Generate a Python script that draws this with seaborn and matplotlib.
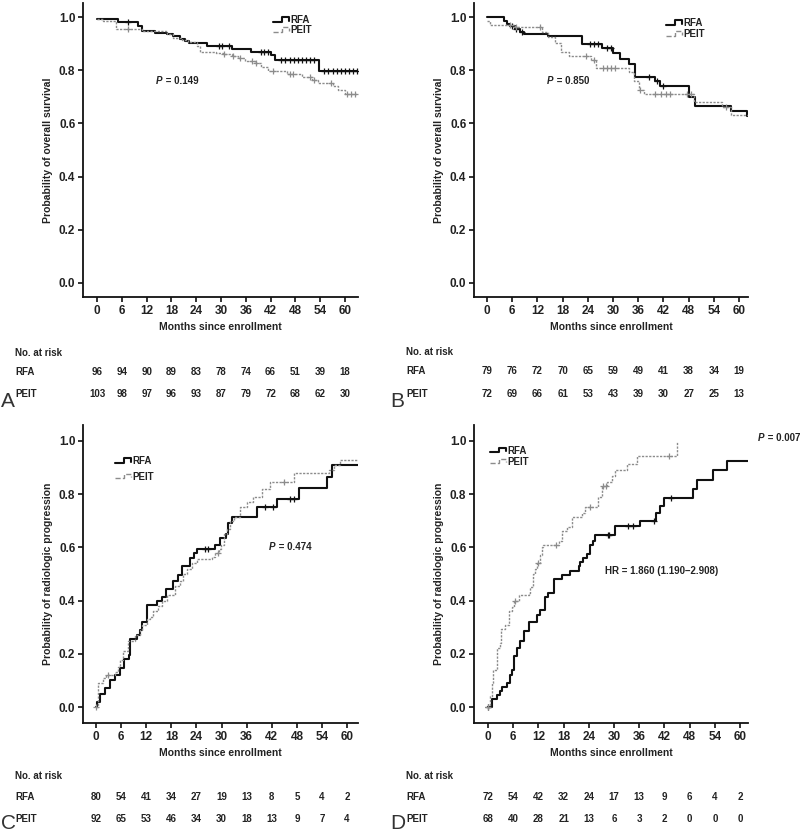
import numpy as np
import matplotlib
matplotlib.use('Agg')
import matplotlib.pyplot as plt
import seaborn as sns
from matplotlib.lines import Line2D
from matplotlib.legend_handler import HandlerBase
from matplotlib.transforms import blended_transform_factory

sns.set_style('ticks')
plt.rcParams['font.family'] = ['Liberation Sans', 'DejaVu Sans']

W, H = 800, 833

# -----------------------------
# Data
# -----------------------------

months = [0, 6, 12, 18, 24, 30, 36, 42, 48, 54, 60]

# A - overall survival, cohort 1
a_rfa_t = [0, 5, 9.8, 11, 14, 17, 18.5, 20, 21.3, 22.3, 26.5, 32.6, 37.2, 42, 43, 53.7, 63]
a_rfa_s = [0.993, 0.982, 0.965, 0.948, 0.94, 0.935, 0.927, 0.917, 0.91, 0.903, 0.893, 0.88,
           0.87, 0.858, 0.837, 0.798, 0.798]
a_rfa_cens = [7.6, 29.5, 30.3, 32, 39.8, 40.5, 41.3, 44.6, 45.6, 46.6, 47.6, 48.6, 49.6, 50.6,
              51.6, 52.4, 55, 56, 57, 58, 59, 60, 61, 62, 62.8]
a_peit_t = [0, 1.5, 4.7, 10.8, 16.9, 18.5, 20.5, 22.1, 24.1, 25, 28.9, 30.5, 32.6, 34.2, 35.8,
            38.2, 39.8, 41.4, 45.9, 49.5, 51.9, 53.5, 57.2, 58.4, 60, 63]
a_peit_s = [0.993, 0.985, 0.955, 0.947, 0.935, 0.922, 0.914, 0.906, 0.892, 0.868, 0.864, 0.86,
            0.855, 0.846, 0.834, 0.826, 0.814, 0.797, 0.787, 0.776, 0.764, 0.752, 0.74, 0.727,
            0.712, 0.712]
a_peit_cens = [7.5, 30.8, 33.0, 34.5, 37.5, 38.5, 42.5, 46.7, 47.5, 51.5, 52.5, 56.5, 60.5, 61.5, 62.5]
a_risk_rfa = [96, 94, 90, 89, 83, 78, 74, 66, 51, 39, 18]
a_risk_peit = [103, 98, 97, 96, 93, 87, 79, 72, 68, 62, 30]

# B - overall survival, cohort 2
b_rfa_t = [0, 4, 4.7, 5.5, 6.7, 7.9, 8.8, 14.6, 22.5, 27.3, 30, 31.7, 33.7, 35.2, 40, 41.2, 48,
           49.5, 58, 62, 62.3]
b_rfa_s = [1.0, 0.986, 0.975, 0.965, 0.955, 0.945, 0.937, 0.927, 0.897, 0.884, 0.866, 0.842,
           0.824, 0.775, 0.76, 0.741, 0.70, 0.665, 0.645, 0.627, 0.627]
b_rfa_cens = [6, 7, 8.3, 24.5, 25.5, 26.5, 28.5, 29.5, 38.5, 40.5, 41.8]
b_peit_t = [0, 0.7, 6.7, 13, 14.6, 16.2, 17.6, 19.6, 24.8, 26, 33.8, 35, 36.2, 37.4, 49.2, 56,
            58, 62.3]
b_peit_s = [0.985, 0.972, 0.962, 0.945, 0.925, 0.904, 0.868, 0.855, 0.838, 0.807, 0.792, 0.761,
            0.724, 0.709, 0.68, 0.66, 0.632, 0.632]
b_peit_cens = [5.5, 7, 12.5, 23.6, 25.5, 27.5, 28.5, 29.5, 30.5, 36.5, 40, 41.5, 42.5, 43.5,
               47.5, 48.5, 56.8]
b_risk_rfa = [79, 76, 72, 70, 65, 59, 49, 41, 38, 34, 19]
b_risk_peit = [72, 69, 66, 61, 53, 43, 39, 30, 27, 25, 13]

# C - radiologic progression, cohort 1
c_rfa_t = [0, 0.3, 1, 2.1, 3.3, 4.5, 5.7, 6.7, 7.9, 8.1, 9.7, 10.5, 11.1, 12.1, 14.5, 15.7,
           16.7, 18.5, 19.7, 20.5, 22.5, 23.3, 24.1, 28.5, 29.7, 31, 31.6, 32.6, 38.5, 43.2,
           48.4, 55.2, 56.4, 63]
c_rfa_s = [0, 0.02, 0.05, 0.07, 0.10, 0.12, 0.145, 0.18, 0.195, 0.255, 0.27, 0.29, 0.32, 0.385,
           0.40, 0.415, 0.445, 0.475, 0.495, 0.53, 0.56, 0.58, 0.595, 0.61, 0.635, 0.65, 0.69,
           0.713, 0.75, 0.78, 0.825, 0.865, 0.91, 0.91]
c_rfa_cens = [26, 26.8, 40.4, 42.4, 46.4, 47.2]
c_peit_t = [0, 0.5, 1.7, 2.5, 4.5, 5.3, 5.7, 6.5, 7.7, 9.3, 10.5, 10.9, 12.1, 12.9, 13.7, 14.9,
            15.7, 16.9, 18.9, 20.1, 20.9, 21.7, 22.9, 24.1, 27.7, 28.5, 29.3, 29.8, 30.5, 31.3,
            32.1, 32.9, 34.5, 36.1, 37.6, 39.6, 41.6, 47.2, 55.6, 56.8, 58.4, 63]
c_peit_s = [0, 0.09, 0.11, 0.12, 0.13, 0.15, 0.175, 0.21, 0.25, 0.27, 0.29, 0.31, 0.33, 0.34,
            0.36, 0.38, 0.40, 0.42, 0.455, 0.475, 0.50, 0.52, 0.54, 0.555, 0.565, 0.58, 0.595,
            0.61, 0.65, 0.67, 0.70, 0.715, 0.75, 0.77, 0.79, 0.82, 0.845, 0.88, 0.89, 0.91,
            0.93, 0.93]
c_peit_cens = [0, 2.9, 29.2, 45]
c_risk_rfa = [80, 54, 41, 34, 27, 19, 13, 8, 5, 4, 2]
c_risk_peit = [92, 65, 53, 46, 34, 30, 18, 13, 9, 7, 4]

# D - radiologic progression, cohort 2
d_rfa_t = [0, 0.95, 2.1, 2.9, 3.3, 4.5, 5.2, 5.7, 6.1, 6.9, 7.7, 8.6, 9.7, 11.6, 12.4, 13.6,
           14.2, 15.6, 17.6, 19.6, 21.6, 21.9, 22.6, 23.5, 24.3, 25, 25.5, 30.3, 36.2, 40, 41,
           41.8, 48.7, 49.8, 53.6, 56.8, 63]
d_rfa_s = [0, 0.03, 0.045, 0.06, 0.075, 0.09, 0.12, 0.14, 0.19, 0.22, 0.25, 0.285, 0.32, 0.345,
           0.365, 0.415, 0.43, 0.48, 0.495, 0.51, 0.53, 0.545, 0.56, 0.575, 0.61, 0.625, 0.645,
           0.68, 0.70, 0.73, 0.755, 0.785, 0.82, 0.855, 0.89, 0.925, 0.925]
d_rfa_cens = [0, 28.5, 28.9, 33.3, 34.5, 39.5, 43.6]
d_peit_t = [0, 0.4, 0.9, 1.3, 2.1, 2.8, 3.2, 4.1, 4.9, 5.7, 6.1, 7.3, 9.7, 10.1, 10.7, 11.3,
            11.7, 12.3, 12.8, 13.2, 16.8, 17.6, 18.8, 20, 22.3, 23.1, 26.3, 27.1, 28.3, 29.5,
            30.3, 33, 35.4, 44.9]
d_peit_s = [0, 0.04, 0.09, 0.14, 0.22, 0.24, 0.295, 0.31, 0.36, 0.375, 0.40, 0.42, 0.43, 0.45,
            0.50, 0.52, 0.54, 0.57, 0.60, 0.61, 0.625, 0.66, 0.675, 0.715, 0.73, 0.75, 0.79,
            0.83, 0.845, 0.87, 0.89, 0.915, 0.945, 1.0]
d_peit_cens = [0, 6.4, 11.8, 16.3, 24.4, 27.4, 28.1, 43]
d_risk_rfa = [72, 54, 42, 32, 24, 17, 13, 9, 6, 4, 2]
d_risk_peit = [68, 40, 28, 21, 13, 6, 3, 2, 0, 0, 0]

os_label = 'Probability of overall survival'
prog_label = 'Probability of radiologic progression'

# -----------------------------
# Layout (pixel boxes: left, top, right, bottom)
# -----------------------------

panels = [
    dict(letter='A', box=(83, 3, 358, 297), xlim=(-3.39, 63.15), ylim=(-0.053, 1.053),
         rfa=(a_rfa_t, a_rfa_s, a_rfa_cens), peit=(a_peit_t, a_peit_s, a_peit_cens),
         risk=(a_risk_rfa, a_risk_peit), ylabel=os_label, leg=(0.69, 0.958), legsp=0.0,
         rows=(353, 372, 394), tab_x=15, let_xy=(1, 407)),
    dict(letter='B', box=(474, 3, 748, 297), xlim=(-3.1, 62.14), ylim=(-0.053, 1.053),
         rfa=(b_rfa_t, b_rfa_s, b_rfa_cens), peit=(b_peit_t, b_peit_s, b_peit_cens),
         risk=(b_risk_rfa, b_risk_peit), ylabel=os_label, leg=(0.70, 0.948), legsp=0.1,
         rows=(352, 371, 394), tab_x=406, let_xy=(390, 407)),
    dict(letter='C', box=(83, 425, 358, 723), xlim=(-3.1, 62.6), ylim=(-0.06, 1.06),
         rfa=(c_rfa_t, c_rfa_s, c_rfa_cens), peit=(c_peit_t, c_peit_s, c_peit_cens),
         risk=(c_risk_rfa, c_risk_peit), ylabel=prog_label, leg=(0.116, 0.895), legsp=0.55,
         rows=(776, 797, 819), tab_x=15, let_xy=(1, 829)),
    dict(letter='D', box=(474, 425, 748, 723), xlim=(-3.33, 61.9), ylim=(-0.06, 1.06),
         rfa=(d_rfa_t, d_rfa_s, d_rfa_cens), peit=(d_peit_t, d_peit_s, d_peit_cens),
         risk=(d_risk_rfa, d_risk_peit), ylabel=prog_label, leg=(0.058, 0.93), legsp=0.1,
         rows=(776, 797, 819), tab_x=406, let_xy=(390, 829)),
]

TXT = '#222222'
RFA_STYLE = dict(color='#111111', linewidth=1.5, linestyle='-')
PEIT_STYLE = dict(color='#8c8c8c', linewidth=1.0, linestyle=(0, (1.6, 1.0)))


class StepHandler(HandlerBase):
    # SPSS-like step glyph for the legend
    def create_artists(self, legend, orig_handle, xdescent, ydescent, width, height,
                       fontsize, trans):
        xs = np.array([0, 0.55, 0.55, 1.0, 1.0]) * width - xdescent
        ys = np.array([0.2, 0.2, 0.9, 0.9, 0.35]) * height - ydescent
        ln = Line2D(xs, ys, color=orig_handle.get_color(),
                    linestyle=orig_handle.get_linestyle(),
                    linewidth=orig_handle.get_linewidth(), transform=trans)
        return [ln]


def fy(y):
    return 1 - y / H


def km(ax, t, s, cens, style, label):
    sns.lineplot(x=t, y=s, drawstyle='steps-post', estimator=None, sort=False,
                 label=label, ax=ax, **style)
    t = np.asarray(t)
    s = np.asarray(s)
    idx = np.searchsorted(t, cens, side='right') - 1
    ax.plot(cens, s[idx], linestyle='none', marker='+', markersize=4.5,
            markeredgewidth=0.9, color=style['color'])


fig = plt.figure(figsize=(W / 100, H / 100), dpi=100)

for p in panels:
    l, t, r, b = p['box']
    ax = fig.add_axes([l / W, 1 - b / H, (r - l) / W, (b - t) / H])
    km(ax, *p['rfa'], RFA_STYLE, 'RFA')
    km(ax, *p['peit'], PEIT_STYLE, 'PEIT')

    ax.set_xlim(*p['xlim'])
    ax.set_ylim(*p['ylim'])
    ax.set_xticks(months)
    ax.set_yticks([0, 0.2, 0.4, 0.6, 0.8, 1.0])
    ax.set_yticklabels(['0.0', '0.2', '0.4', '0.6', '0.8', '1.0'])
    sns.despine(ax=ax)
    for sp in ['left', 'bottom']:
        ax.spines[sp].set_linewidth(1.3)
        ax.spines[sp].set_color('#111111')
    ax.tick_params(length=3.5, width=1.2, pad=2, labelsize=8.5, colors='#111111',
                   labelcolor=TXT)
    for lab in ax.get_xticklabels() + ax.get_yticklabels():
        lab.set_fontweight('bold')
    ax.set_xlabel('Months since enrollment', fontsize=7.5, fontweight='bold', color=TXT,
                  labelpad=4)
    ax.set_ylabel(p['ylabel'], fontsize=7.5, fontweight='bold', color=TXT, labelpad=4)

    handles, labels = ax.get_legend_handles_labels()
    ax.legend(handles, labels, handler_map={Line2D: StepHandler()}, loc='upper left',
              bbox_to_anchor=p['leg'], frameon=False, borderaxespad=0, borderpad=0,
              handlelength=1.7, handletextpad=0.1, labelspacing=p['legsp'],
              prop=dict(weight='bold', size=7))
    for tx in ax.get_legend().get_texts():
        tx.set_color(TXT)

    # at-risk table
    tr = blended_transform_factory(ax.transData, fig.transFigure)
    y0, y1, y2 = p['rows']
    fig.text(p['tab_x'] / W, fy(y0), 'No. at risk', fontsize=7, fontweight='bold',
             color=TXT, va='center')
    fig.text(p['tab_x'] / W, fy(y1), 'RFA', fontsize=7, fontweight='bold', color=TXT,
             va='center')
    fig.text(p['tab_x'] / W, fy(y2), 'PEIT', fontsize=7, fontweight='bold', color=TXT,
             va='center')
    for m, n1, n2 in zip(months, *p['risk']):
        ax.text(m, fy(y1), str(n1), transform=tr, ha='center', va='center', fontsize=7,
                fontweight='bold', color=TXT)
        ax.text(m, fy(y2), str(n2), transform=tr, ha='center', va='center', fontsize=7,
                fontweight='bold', color=TXT)

    lx, ly = p['let_xy']
    fig.text(lx / W, fy(ly), p['letter'], fontsize=15, color='#333333', va='baseline')
    p['ax'] = ax


def pval(ax, x, y, txt, **kw):
    t1 = ax.text(x, y, 'P', fontsize=7, fontweight='bold', style='italic', color=TXT,
                 va='center', **kw)
    ax.annotate(' = ' + txt, xy=(1, 0.5), xycoords=t1, va='center', fontsize=7,
                fontweight='bold', color=TXT, annotation_clip=False)


pval(panels[0]['ax'], 14.3, 0.76, '0.149')
pval(panels[1]['ax'], 14.3, 0.76, '0.850')
pval(panels[2]['ax'], 41.4, 0.603, '0.474')
pval(panels[3]['ax'], 64.3, 1.011, '0.007', clip_on=False)
panels[3]['ax'].text(27.8, 0.51, 'HR = 1.860 (1.190\u20132.908)', fontsize=7,
                     fontweight='bold', color=TXT, va='center')

fig.savefig('out.png', dpi=100)
